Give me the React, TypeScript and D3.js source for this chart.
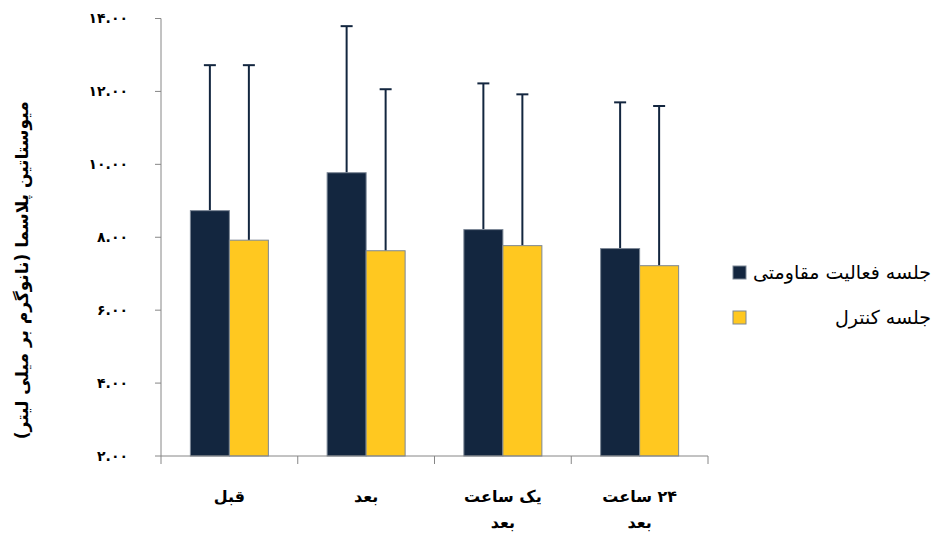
import React from "react";
import * as d3 from "d3";

const categories = ["قبل", "بعد", "یک ساعت|بعد", "۲۴ ساعت|بعد"];
const seriesNames = ["جلسه فعالیت مقاومتی", "جلسه کنترل"];
const resistanceMean = [8.73, 9.77, 8.21, 7.69];
const resistanceSD = [3.99, 4.02, 4.01, 4.01];
const controlMean = [7.92, 7.63, 7.77, 7.22];
const controlSD = [4.8, 4.43, 4.15, 4.38];
const yTicks = [2, 4, 6, 8, 10, 12, 14];
const yTickLabels = ["۲.۰۰", "۴.۰۰", "۶.۰۰", "۸.۰۰", "۱۰.۰۰", "۱۲.۰۰", "۱۴.۰۰"];
const yTitle = "میوستاتین پلاسما (نانوگرم بر میلی لیتر)";

const colors = ["#13263f", "#ffc820"];
const font = "'DejaVu Sans', sans-serif";

export default function App() {
  const W = 935, H = 535;
  const left = 161, right = 708, top = 18.5, bottom = 456;
  const y = d3.scaleLinear().domain([2, 14]).range([bottom, top]);
  const x = d3.scaleBand<string>().domain(categories).range([left, right]).paddingInner(0).paddingOuter(0);
  const bw = x.bandwidth();
  const innerW = 78;
  const xs = d3.scaleBand<string>().domain(seriesNames).range([(bw - innerW) / 2, (bw + innerW) / 2]);
  const data = [
    { m: resistanceMean, s: resistanceSD },
    { m: controlMean, s: controlSD },
  ];
  const boundaries = [...categories.map((c) => x(c) as number), right];
  return (
    <svg width={W} height={H} style={{ position: "absolute", left: 0, top: 0 }}>
      <rect width={W} height={H} fill="#fff" />
      {categories.map((c, i) =>
        seriesNames.map((sName, k) => {
          const bx = (x(c) as number) + (xs(sName) as number);
          const v = data[k].m[i];
          const e = v + data[k].s[i];
          const cx = bx + xs.bandwidth() / 2;
          return (
            <g key={c + k}>
              <line x1={cx} x2={cx} y1={y(v)} y2={y(e)} stroke="#13263f" strokeWidth={2} />
              <line x1={cx - 6} x2={cx + 6} y1={y(e)} y2={y(e)} stroke="#13263f" strokeWidth={2} />
              <rect x={bx} y={y(v)} width={xs.bandwidth()} height={bottom - y(v)} fill={colors[k]} stroke="#7c8796" strokeWidth={1} />
            </g>
          );
        })
      )}
      <line x1={left} x2={left} y1={top} y2={bottom} stroke="#868686" strokeWidth={1} />
      {yTicks.map((t, i) => (
        <g key={t}>
          <line x1={left - 6} x2={left} y1={y(t)} y2={y(t)} stroke="#868686" />
          <text x={128} y={y(t)} dy="0.35em" textAnchor="end" fontFamily={font} fontWeight="bold" fontSize={14} fill="#000">
            {yTickLabels[i]}
          </text>
        </g>
      ))}
      <line x1={left} x2={right} y1={bottom} y2={bottom} stroke="#868686" strokeWidth={1} />
      {boundaries.map((b, i) => (
        <line key={i} x1={b} x2={b} y1={bottom} y2={bottom + 8} stroke="#868686" />
      ))}
      {categories.map((c) => {
        const lines = c.split("|");
        const cx = (x(c) as number) + bw / 2;
        return (
          <g key={c}>
            {lines.map((l, j) => (
              <text key={j} x={cx} y={496 + j * 26} dy="0.35em" direction="rtl" textAnchor="middle" fontFamily={font} fontWeight="bold" fontSize={16} fill="#000">
                {l}
              </text>
            ))}
          </g>
        );
      })}
      <text transform={`translate(22,${(top + bottom) / 2 + 33}) rotate(-90)`} textAnchor="middle" direction="rtl" fontFamily={font} fontWeight="bold" fontSize={17} fill="#000" dy="0.35em">
        {yTitle}
      </text>
      {seriesNames.map((n, k) => (
        <g key={n}>
          <rect x={733} y={266 + k * 45} width={13} height={13} fill={colors[k]} stroke="#7c8796" />
          <text x={931} y={272.5 + k * 45} dy="0.35em" textAnchor="end" fontFamily={font} fontSize={19} fill="#000">
            {n}
          </text>
        </g>
      ))}
    </svg>
  );
}
